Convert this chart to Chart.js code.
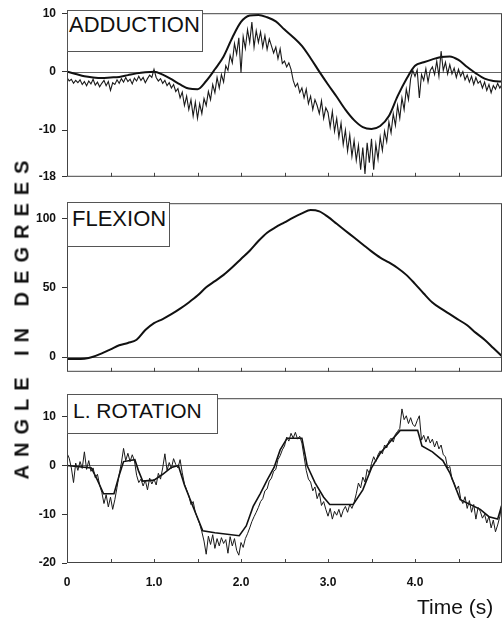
<!DOCTYPE html>
<html>
<head>
<meta charset="utf-8">
<script src="https://cdn.jsdelivr.net/npm/chart.js@4.4.1/dist/chart.umd.min.js"></script>
<style>
body { margin: 0; background: #fff; width: 503px; height: 619px; position: relative; overflow: hidden; font-family: "Liberation Sans", Arial, sans-serif; }
canvas { position: absolute; left: 0; }
.tag { position: absolute; box-sizing: border-box; border: 1px solid #555; background: #fff; color: #111; line-height: 1.117; white-space: nowrap; }
#ylab { position: absolute; left: 22px; top: 316px; transform: translate(-50%, -50%) rotate(-90deg); font-size: 20px; font-weight: bold; letter-spacing: 8px; color: #111; white-space: nowrap; }
#xlab { position: absolute; left: 417px; top: 595px; font-size: 21px; color: #111; white-space: nowrap; }
</style>
</head>
<body>
<canvas id="c1" width="503" height="190" style="top:0px"></canvas>
<canvas id="c2" width="503" height="195" style="top:190px"></canvas>
<canvas id="c3" width="503" height="234" style="top:385px"></canvas>
<div class="tag" style="left:67px;top:10px;width:136px;height:42px;font-size:22px;padding:2px 0 0 1px">ADDUCTION</div>
<div class="tag" style="left:67px;top:202px;width:103px;height:45px;font-size:22px;padding:4px 0 0 4px">FLEXION</div>
<div class="tag" style="left:67px;top:394px;width:151px;height:40px;font-size:21px;padding:4px 0 0 5px">L. ROTATION</div>
<div id="ylab">ANGLE IN DEGREES</div>
<div id="xlab">Time (s)</div>
<script>
// time bases (seconds)
var tCoarse = [];
for (var i = 0; i <= 50; i++) tCoarse.push(i / 10);
var tFine = [];
for (var i = 0; i <= 200; i++) tFine.push(i / 40);

var xTickLabels = [0, 1, 2, 3, 4];
var xTickMarks = [0.5, 1, 1.5, 2, 2.5, 3, 3.5, 4, 4.5];

// ADDUCTION
var adductionTicks = [-18, -10, 0, 10];
var adductionSmooth = [
  0, -0.4, -0.8, -1.0, -1.1, -1.0, -0.9, -0.6, -0.3, -0.1,
  0, -0.5, -1.3, -2.2, -2.9, -3.0, -1.6, 0.4, 2.6, 5.8,
  8.5, 9.6, 9.7, 9.3, 8.6, 7.2, 5.9, 4.4, 2.3, 0.0,
  -2.2, -4.3, -6.5, -8.3, -9.5, -9.8, -9.3, -7.6, -4.2, -1.3,
  1.0, 1.6, 2.1, 2.5, 2.6, 2.0, 0.8, -0.3, -1.2, -1.6,
  -1.7
];
var adductionRaw = [
  -1.0, -1.6, -1.3, -2.0, -1.5, -1.9, -1.4, -2.2,
  -1.7, -2.4, -1.6, -2.1, -1.3, -2.3, -1.8, -2.6,
  -2.0, -1.5, -2.4, -1.7, -3.2, -1.9, -2.2, -1.4,
  -2.0, -1.2, -1.8, -1.0, -1.7, -1.3, -2.1, -1.1,
  -1.6, -0.8, -1.5, -1.0, -1.9, -1.2, -0.6, -1.0,
  0.4, -1.0, -1.6, -1.2, -2.0, -1.5, -2.4, -1.9,
  -2.8, -2.2, -3.4, -2.9, -4.5, -3.5, -5.8, -4.2,
  -6.5, -4.8, -7.6, -5.2, -8.0, -5.5, -7.2, -4.6,
  -5.8, -3.4, -4.8, -2.2, -3.6, -1.0, -2.8, -0.5,
  -1.8, 1.0, 0.2, 2.8, 1.5, 4.8, 3.0, 5.8,
  -0.2, 6.0, 4.0, 7.2, 5.0, 8.5, 4.2, 7.0,
  5.0, 6.8, 4.2, 6.2, 3.8, 5.6, 4.4, 3.2,
  4.2, 2.2, 3.9, 1.4, 1.8, 0.8, 1.5, 0.4,
  -1.5, -2.6, -2.0, -3.6, -2.8, -4.5, -3.0, -5.5,
  -4.2, -6.5, -4.8, -5.8, -7.2, -5.0, -8.0, -6.2,
  -7.0, -9.5, -6.8, -10.2, -8.0, -11.2, -8.8, -12.5,
  -10.0, -13.6, -10.8, -14.5, -11.8, -15.2, -12.6, -16.8,
  -13.0, -17.5, -12.2, -15.6, -11.5, -16.8, -12.4, -15.0,
  -11.2, -13.5, -10.2, -12.0, -8.6, -10.5, -7.2, -9.2,
  -5.8, -8.0, -4.5, -6.5, -3.0, -4.8, -1.2, 0.2,
  -0.8, 0.3, -4.5, -0.5, -1.5, 0.5, -1.8, 0.2,
  0.8, -0.5, 1.8, -0.8, 3.5, 0.2, 1.6, -0.4,
  1.2, -0.4, 0.6, -1.0, 0.4, -0.8, 0.0, -1.4,
  -0.6, -1.8, -0.8, -2.2, -1.0, -2.0, -1.6, -2.8,
  -1.8, -3.2, -2.2, -3.6, -2.4, -3.0, -2.0, -2.8,
  -2.2
];

// FLEXION
var flexionTicks = [0, 50, 100];
var flexion = [
  -1.5, -1.5, -1.2, 0.2, 2.6, 5.5, 8.5, 10.2, 12.5, 19.5,
  24.5, 27.5, 31, 35, 39.5, 44.5, 50.5, 55, 59.5, 65,
  71, 77, 84, 90, 94, 97.5, 101, 104, 106.5, 105.5,
  101.5, 96.5, 91.5, 86.5, 81.5, 76.5, 72, 68.5, 64.5, 59.5,
  53, 46, 39.5, 35, 31, 27, 23, 17.5, 12.5, 6.5,
  0.5
];

// L. ROTATION
var rotationTicks = [-20, -10, 0, 10];
var rotationSmoothT = [0, 0.28, 0.35, 0.42, 0.54, 0.6, 0.65, 0.78, 0.82, 0.87, 1.0, 1.1, 1.2, 1.28, 1.35, 1.45, 1.56, 1.7, 1.98, 2.06, 2.14, 2.22, 2.3, 2.38, 2.45, 2.53, 2.7, 2.76, 2.85, 2.95, 3.02, 3.29, 3.4, 3.5, 3.6, 3.72, 3.83, 4.03, 4.08, 4.2, 4.32, 4.4, 4.52, 4.75, 4.85, 4.95, 5.0];
var rotationSmooth = [0, -0.5, -3, -5.8, -5.8, -2, 0.8, 1.2, -1, -3.2, -3, -1.8, -0.4, 0, -4, -8.5, -13.4, -13.8, -14.4, -12.4, -8.4, -5.8, -3, -0.4, 3.2, 5.6, 5.6, 0, -3.5, -6.5, -8, -8, -5, -0.5, 2.5, 5, 7.2, 7.2, 4, 2.8, 1, -1.5, -7, -9, -10.5, -11, -8];
var rotationRaw = [
  2.5, 1.5, -0.5, -3.5, 0.5, -1.0, 0.8, -0.6,
  2.8, -0.8, 1.0, -1.2, -0.5, -2.5, -1.8, -4.0,
  -5.5, -7.8, -6.0, -8.5, -6.5, -9.0, -7.0, -4.5,
  -1.8, 0.5, 3.5, 1.0, 2.5, 0.8, 2.2, 1.0,
  -2.0, -3.5, -2.8, -4.2, -3.0, -5.0, -2.6, -3.8,
  -2.8, -4.0, -1.6, -2.8, -0.5, 2.4, -1.0, 0.6,
  -0.6, 1.4, 0.2, -0.5, 1.2, -1.5, -3.8, -5.0,
  -6.2, -8.0, -7.4, -9.6, -10.8, -12.0, -13.6, -15.5,
  -18.2, -14.5, -16.2, -14.2, -17.0, -15.0, -16.5, -14.8,
  -16.0, -15.2, -18.0, -14.6, -16.5, -15.0, -17.4, -18.4,
  -15.8, -16.8, -15.0, -14.0, -12.8, -11.5, -10.5, -9.6,
  -8.6, -7.4, -6.8, -5.2, -4.8, -3.2, -2.6, -1.2,
  -0.8, 1.2, 2.0, 3.2, 4.0, 5.8, 5.0, 6.6,
  5.6, 6.8, 5.4, 6.0, 4.6, 1.8, -1.0, -2.8,
  -3.4, -5.2, -4.4, -6.8, -5.6, -8.2, -7.4, -9.0,
  -10.4, -8.8, -11.0, -9.4, -10.2, -9.0, -10.6, -9.2,
  -8.4, -9.6, -8.0, -8.8, -7.6, -5.8, -3.6, -4.6,
  -2.4, -3.4, -0.8, -1.6, 0.4, 1.8, 0.8, 2.2,
  3.0, 2.4, 4.2, 3.6, 5.0, 5.6, 4.8, 6.4,
  7.0, 7.6, 11.6, 9.4, 10.2, 8.6, 9.8, 8.4,
  8.0, 9.2, 10.2, 5.2, 6.2, 4.8, 6.0, 4.6,
  5.4, 3.8, 5.0, 3.4, 4.2, 2.2, 1.8, -0.6,
  -0.2, -2.8, -3.6, -5.0, -4.2, -6.8, -7.8, -6.4,
  -8.8, -7.2, -9.6, -8.0, -11.0, -8.6, -9.4, -10.8,
  -10.0, -11.8, -10.4, -12.8, -11.2, -13.6, -12.2, -10.5,
  -7.5
];

function pts(xs, ys) {
  return ys.map(function (v, k) { return { x: xs[k], y: v }; });
}

var framePlugin = {
  id: 'frame',
  beforeDatasetsDraw: function (chart) {
    var a = chart.chartArea, ctx = chart.ctx;
    var y0 = Math.round(chart.scales.y.getPixelForValue(0)) + 0.5;
    ctx.save();
    ctx.strokeStyle = '#666';
    ctx.lineWidth = 1;
    ctx.beginPath();
    ctx.moveTo(a.left, y0);
    ctx.lineTo(a.right, y0);
    ctx.stroke();
    ctx.restore();
  },
  afterDatasetsDraw: function (chart) {
    var a = chart.chartArea, ctx = chart.ctx, xs = chart.scales.x;
    ctx.save();
    ctx.strokeStyle = '#444';
    ctx.lineWidth = 1;
    ctx.strokeRect(a.left + 0.5, a.top + 0.5, a.right - a.left - 1, a.bottom - a.top - 1);
    ctx.beginPath();
    xTickMarks.forEach(function (v) {
      var px = Math.round(xs.getPixelForValue(v)) + 0.5;
      ctx.moveTo(px, a.bottom);
      ctx.lineTo(px, a.bottom - 4);
    });
    ctx.stroke();
    ctx.restore();
  }
};

function makePanel(id, pad, yMin, yMax, yTicks, datasets, showX, xHeight) {
  return new Chart(document.getElementById(id), {
    type: 'line',
    data: { datasets: datasets },
    options: {
      responsive: false,
      animation: false,
      devicePixelRatio: 1,
      layout: { padding: pad },
      plugins: { legend: { display: false }, tooltip: { enabled: false } },
      elements: { point: { radius: 0 } },
      scales: {
        x: {
          type: 'linear', min: 0, max: 5,
          display: showX,
          border: { display: false },
          grid: { display: true, drawOnChartArea: false, drawTicks: false, color: 'rgba(0,0,0,0)' },
          ticks: {
            padding: 12, color: '#111',
            font: { family: 'Liberation Sans', size: 12, weight: 'bold' },
            callback: function (v) { return v === 0 ? '0' : v.toFixed(1); }
          },
          afterBuildTicks: function (s) { s.ticks = xTickLabels.map(function (v) { return { value: v }; }); },
          afterFit: function (s) { if (showX) s.height = xHeight; }
        },
        y: {
          min: yMin, max: yMax,
          border: { display: false },
          grid: { drawOnChartArea: false, tickLength: 5, color: '#333' },
          ticks: { padding: 6, color: '#111', font: { family: 'Liberation Sans', size: 12, weight: 'bold' } },
          afterBuildTicks: function (s) { s.ticks = yTicks.map(function (v) { return { value: v }; }); },
          afterFit: function (s) { s.width = 67; }
        }
      }
    },
    plugins: [framePlugin]
  });
}

makePanel('c1', { top: 10, bottom: 10, left: 0, right: 1 }, -18, 10, adductionTicks, [
  { data: pts(tFine, adductionRaw), borderColor: '#1a1a1a', borderWidth: 1.1, tension: 0 },
  { data: pts(tCoarse, adductionSmooth), borderColor: '#111', borderWidth: 2, cubicInterpolationMode: 'monotone' }
], false);

makePanel('c2', { top: 12, bottom: 12, left: 0, right: 1 }, -10.7, 111.4, flexionTicks, [
  { data: pts(tCoarse, flexion), borderColor: '#111', borderWidth: 2, cubicInterpolationMode: 'monotone' }
], false);

makePanel('c3', { top: 9, bottom: 0, left: 0, right: 1 }, -20, 13.8, rotationTicks, [
  { data: pts(tFine, rotationRaw), borderColor: '#1a1a1a', borderWidth: 1, tension: 0 },
  { data: pts(rotationSmoothT, rotationSmooth), borderColor: '#111', borderWidth: 1.6, tension: 0 }
], true, 56);
</script>
</body>
</html>
